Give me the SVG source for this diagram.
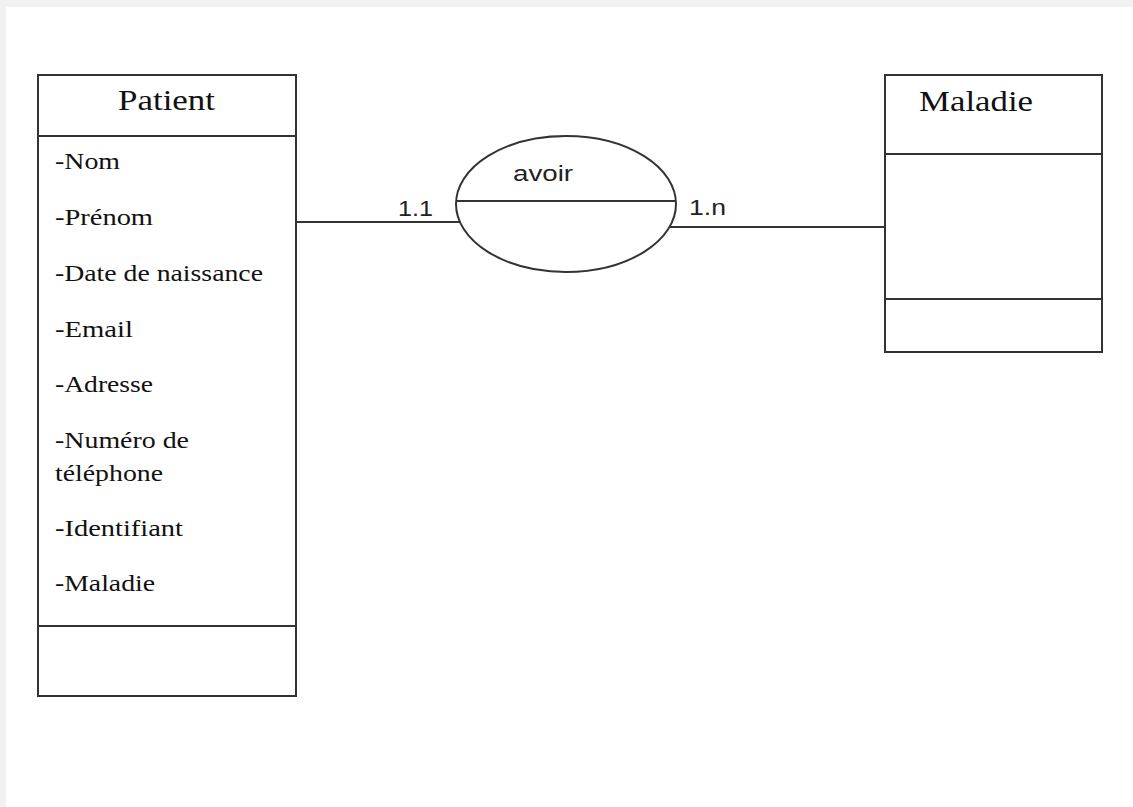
<svg xmlns="http://www.w3.org/2000/svg" width="1133" height="807" viewBox="0 0 1133 807">
  <style>
    .box { fill: #ffffff; stroke: #333333; stroke-width: 2; }
    .sep { stroke: #333333; stroke-width: 2; }
    .link { stroke: #333333; stroke-width: 2; fill: none; }
    .title { font-family: "Liberation Serif", "Times New Roman", serif; font-size: 29px; fill: #111111; }
    .attr { font-family: "Liberation Serif", "Times New Roman", serif; font-size: 23px; fill: #111111; }
    .sans { font-family: "Liberation Sans", Arial, sans-serif; font-size: 22px; fill: #222222; }
  </style>

  <!-- page background with a light frame at top and left -->
  <rect x="0" y="0" width="1133" height="807" fill="#ffffff"/>
  <rect x="0" y="0" width="1133" height="7" fill="#f1f1f1"/>
  <rect x="0" y="0" width="6" height="807" fill="#f1f1f1"/>

  <!-- connectors between the classes and the association -->
  <g id="connectors">
    <line class="link" x1="296" y1="222" x2="460" y2="222"/>
    <line class="link" x1="670" y1="227" x2="885" y2="227"/>
    <text class="sans" x="398" y="216" textLength="35" lengthAdjust="spacingAndGlyphs">1.1</text>
    <text class="sans" x="689" y="215" textLength="37" lengthAdjust="spacingAndGlyphs">1.n</text>
  </g>

  <!-- Patient class -->
  <g id="patient">
    <rect class="box" x="38" y="75" width="258" height="621"/>
    <line class="sep" x1="38" y1="136" x2="296" y2="136"/>
    <line class="sep" x1="38" y1="626" x2="296" y2="626"/>
    <text class="title" x="118" y="110" textLength="97" lengthAdjust="spacingAndGlyphs">Patient</text>
    <text class="attr" x="55" y="169" textLength="65" lengthAdjust="spacingAndGlyphs">-Nom</text>
    <text class="attr" x="55" y="225" textLength="98" lengthAdjust="spacingAndGlyphs">-Prénom</text>
    <text class="attr" x="55" y="281" textLength="208" lengthAdjust="spacingAndGlyphs">-Date de  naissance</text>
    <text class="attr" x="55" y="337" textLength="78" lengthAdjust="spacingAndGlyphs">-Email</text>
    <text class="attr" x="55" y="392" textLength="98" lengthAdjust="spacingAndGlyphs">-Adresse</text>
    <text class="attr" x="55" y="448" textLength="134" lengthAdjust="spacingAndGlyphs">-Numéro de</text>
    <text class="attr" x="55" y="481" textLength="108" lengthAdjust="spacingAndGlyphs">téléphone</text>
    <text class="attr" x="55" y="536" textLength="128" lengthAdjust="spacingAndGlyphs">-Identifiant</text>
    <text class="attr" x="55" y="591" textLength="100" lengthAdjust="spacingAndGlyphs">-Maladie</text>
  </g>

  <!-- association "avoir" -->
  <g id="avoir">
    <ellipse class="box" cx="566" cy="204" rx="110" ry="68"/>
    <line class="sep" x1="456" y1="201" x2="676" y2="201"/>
    <text class="sans" x="513" y="181" textLength="60" lengthAdjust="spacingAndGlyphs">avoir</text>
  </g>

  <!-- Maladie class -->
  <g id="maladie">
    <rect class="box" x="885" y="75" width="217" height="277"/>
    <line class="sep" x1="885" y1="154" x2="1102" y2="154"/>
    <line class="sep" x1="885" y1="299" x2="1102" y2="299"/>
    <text class="title" x="919" y="111" textLength="114" lengthAdjust="spacingAndGlyphs">Maladie</text>
  </g>
</svg>
